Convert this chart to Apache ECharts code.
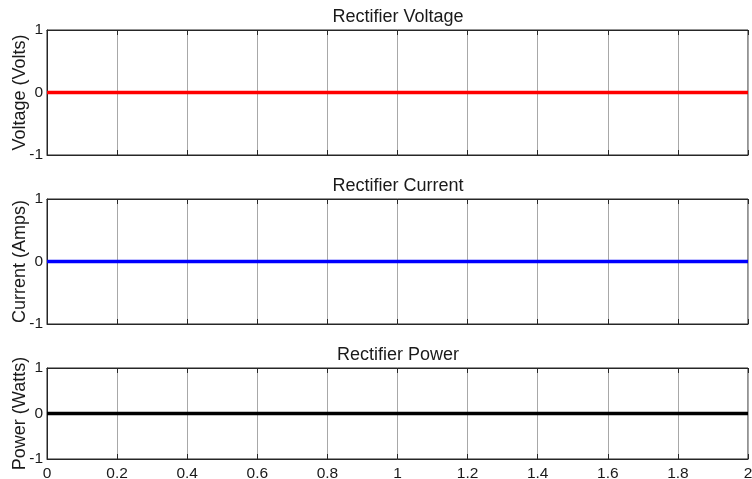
<!DOCTYPE html>
<html>
<head>
<meta charset="utf-8">
<script src="https://cdn.jsdelivr.net/npm/echarts@6/dist/echarts.min.js"></script>
<style>
  html, body { margin: 0; padding: 0; background: #fff; }
  #chart { width: 752px; height: 479px; }
</style>
</head>
<body>
<div id="chart"></div>
<script>
// Time samples (s) and measured signals for the rectifier
const time = [0, 0.5, 1, 1.5, 2];
const voltage = [0, 0, 0, 0, 0];
const current = [0, 0, 0, 0, 0];
const power = [0, 0, 0, 0, 0];

const titles = ['Rectifier Voltage', 'Rectifier Current', 'Rectifier Power'];
const yNames = ['Voltage (Volts)', 'Current (Amps)', 'Power (Watts)'];
const colors = ['#ff0000', '#0000ff', '#000000'];
const signals = [voltage, current, power];

const FONT = 'Liberation Sans, Arial, Helvetica, sans-serif';
const AX = '#262626';

const panels = [
  { top: 30, height: 125 },
  { top: 199, height: 125 },
  { top: 368, height: 91 }
];

const grid = [], xAxis = [], yAxis = [], series = [], title = [];

panels.forEach((p, i) => {
  grid.push({
    left: 47, width: 701, top: p.top, height: p.height,
    outerBoundsMode: 'none', containLabel: false,
    show: true, borderColor: AX, borderWidth: 1, backgroundColor: '#fff'
  });
  title.push({
    text: titles[i], left: 398, top: p.top - 22, textAlign: 'center', padding: 0,
    textStyle: { fontFamily: FONT, fontSize: 18, fontWeight: 'normal', color: '#1a1a1a' }
  });
  const last = i === panels.length - 1;
  // bottom x axis with vertical grid
  xAxis.push({
    type: 'value', gridIndex: i, min: 0, max: 2, interval: 0.2, position: 'bottom',
    axisLine: { show: true, onZero: false, lineStyle: { color: AX, width: 1 } },
    axisTick: { show: true, inside: true, length: 5, lineStyle: { color: AX } },
    axisLabel: { show: last, fontFamily: FONT, fontSize: 15.5, color: '#1a1a1a', margin: 7 },
    splitLine: { show: true, lineStyle: { color: '#a8a8a8', width: 1 } }
  });
  // top x axis for the box ticks
  xAxis.push({
    type: 'value', gridIndex: i, min: 0, max: 2, interval: 0.2, position: 'top',
    axisLine: { show: true, onZero: false, lineStyle: { color: AX, width: 1 } },
    axisTick: { show: true, inside: true, length: 5, lineStyle: { color: AX } },
    axisLabel: { show: false }, splitLine: { show: false }
  });
  yAxis.push({
    type: 'value', gridIndex: i, min: -1, max: 1, interval: 1,
    name: yNames[i], nameLocation: 'middle', nameGap: 18, nameMoveOverlap: false,
    nameTextStyle: { fontFamily: FONT, fontSize: 18, color: '#1a1a1a' },
    axisLine: { show: true, onZero: false, lineStyle: { color: AX, width: 1 } },
    axisTick: { show: true, inside: true, length: 5, lineStyle: { color: AX } },
    axisLabel: { fontFamily: FONT, fontSize: 15.5, color: '#1a1a1a', margin: 4 },
    splitLine: { show: false }
  });
  series.push({
    type: 'line', xAxisIndex: i * 2, yAxisIndex: i,
    data: time.map((t, k) => [t, signals[i][k]]),
    showSymbol: false, symbol: 'none', animation: false,
    lineStyle: { color: colors[i], width: 3.5 }, z: 5
  });
});

const chart = echarts.init(document.getElementById('chart'), null, { renderer: 'canvas' });
chart.setOption({ animation: false, title, grid, xAxis, yAxis, series });
</script>
</body>
</html>
